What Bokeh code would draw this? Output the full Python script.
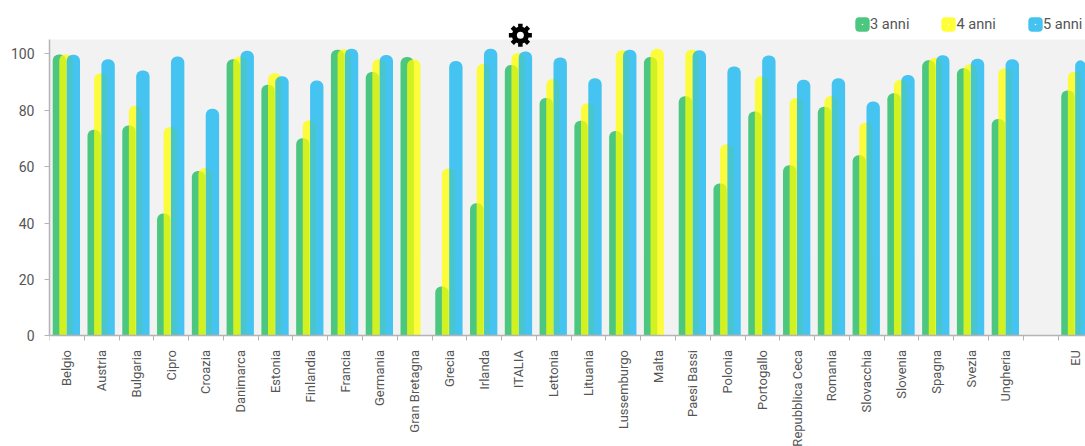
import numpy as np
from bokeh.embed import file_html
from bokeh.models import (BoxAnnotation, ColumnDataSource, FixedTicker, Legend,
                          LegendItem, Range1d)
from bokeh.plotting import figure
from bokeh.resources import INLINE

# Countries in axis order; the empty entry separates the member states from EU.
categories = ["Belgio", "Austria", "Bulgaria", "Cipro", "Croazia", "Danimarca", "Estonia",
              "Finlandia", "Francia", "Germania", "Gran Bretagna", "Grecia", "Irlanda",
              "ITALIA", "Lettonia", "Lituania", "Lussemburgo", "Malta", "Paesi Bassi",
              "Polonia", "Portogallo", "Repubblica Ceca", "Romania", "Slovacchia",
              "Slovenia", "Spagna", "Svezia", "Ungheria", "", "EU"]

anni_3 = [99.7, 73.0, 74.5, 43.4, 58.4, 98.0, 89.0, 70.0, 101.4, 93.5, 98.8, 17.5, 47.0, 96.0,
          84.3, 76.2, 72.6, 98.8, 84.9, 54.0, 79.5, 60.5, 81.2, 64.0, 86.0, 97.6, 94.8, 76.8,
          np.nan, 86.9]
anni_4 = [99.7, 93.0, 81.5, 74.0, 59.5, 99.0, 93.0, 76.4, 101.5, 98.0, 97.9, 59.3, 96.3, 100.2,
          91.0, 82.4, 101.2, 101.7, 101.4, 67.9, 92.0, 84.3, 85.0, 75.5, 90.7, 98.5, 96.2, 94.8,
          np.nan, 93.6]
anni_5 = [99.6, 98.0, 94.0, 99.0, 80.5, 101.0, 92.0, 90.5, 101.7, 99.5, np.nan, 97.4, 101.7, 100.7,
          98.6, 91.3, 101.4, np.nan, 101.2, 95.4, 99.3, 90.7, 91.3, 83.0, 92.4, 99.4, 98.2, 98.0,
          np.nan, 97.6]

y_ticks = [0, 20, 40, 60, 80, 100]
series_names = ["3 anni", "4 anni", "5 anni"]
series_colors = ["#2ec06b", "#ffff00", "#1ab8f0"]
series_alpha = [0.85, 0.75, 0.8]
swatch_colors = ["#4bc77f", "#ffff38", "#45c3f0"]
series_shift = [-0.215, -0.025, 0.185]

FONT = "Roboto"
TEXT = "#555555"

n = len(categories)
centers = list(range(n))
boundaries = [i - 0.5 for i in range(n + 1)]

# The frame fills the page height: the range below zero holds the rotated names.
p = figure(width=1085, height=446, output_backend="svg", toolbar_location=None,
           x_range=Range1d(-0.5, 29.29), y_range=Range1d(-39.13, 118.8),
           min_border_left=49, min_border_right=0, min_border_top=0, min_border_bottom=0,
           outline_line_color=None)

# Grey plotting band; the area above it stays white for the legend and the marker.
p.add_layout(BoxAnnotation(bottom=0, top=105, fill_color="#f2f2f2", fill_alpha=1,
                           line_color=None, level="underlay"))

p.xgrid.visible = False
p.ygrid.ticker = FixedTicker(ticks=y_ticks[1:])
p.ygrid.grid_line_color = "#979797"
p.ygrid.grid_line_width = 1

yaxis = p.yaxis[0]
yaxis.ticker = FixedTicker(ticks=y_ticks)
yaxis.bounds = (0, 105)
yaxis.axis_line_color = "#b4b4b4"
yaxis.axis_line_width = 1.5
yaxis.major_tick_line_color = "#b4b4b4"
yaxis.major_tick_in = 0
yaxis.major_tick_out = 5
yaxis.minor_tick_line_color = None
yaxis.major_label_text_font = FONT
yaxis.major_label_text_font_size = "14px"
yaxis.major_label_text_color = TEXT
yaxis.major_label_standoff = 10

# Names sit on the category centres, tick marks on the boundaries between them.
xaxis = p.xaxis[0]
xaxis.fixed_location = 0
xaxis.ticker = FixedTicker(ticks=centers, minor_ticks=boundaries)
xaxis.major_label_overrides = {i: c for i, c in enumerate(categories)}
xaxis.major_label_orientation = np.pi / 2
xaxis.major_label_text_font = FONT
xaxis.major_label_text_font_size = "13px"
xaxis.major_label_text_color = TEXT
xaxis.major_label_standoff = 8
xaxis.major_tick_line_color = None
xaxis.axis_line_color = "#b4b4b4"
xaxis.axis_line_width = 1.5
xaxis.minor_tick_line_color = "#b4b4b4"
xaxis.minor_tick_in = 0
xaxis.minor_tick_out = 5

source = ColumnDataSource(dict(x=centers, a3=anni_3, a4=anni_4, a5=anni_5))
for column, color, alpha, shift in zip(["a3", "a4", "a5"], series_colors, series_alpha, series_shift):
    xs = [c + shift for c in centers]
    p.vbar(x=xs, top=source.data[column], width=0.385, bottom=0, fill_color=color,
           fill_alpha=alpha, line_color=None, border_radius=(6, 6, 0, 0))

# Gear highlighting Italy: spokes, a solid hub and a white hole.
gear_x = categories.index("ITALIA") + 0.04
gear_y = 106.5
p.scatter(x=[gear_x], y=[gear_y], marker="cross", size=23, line_color="#000000", line_width=4.5)
p.scatter(x=[gear_x], y=[gear_y], marker="x", size=23, line_color="#000000", line_width=4.5)
p.scatter(x=[gear_x], y=[gear_y], marker="circle", size=17, fill_color="#000000", line_color=None)
p.scatter(x=[gear_x], y=[gear_y], marker="circle", size=7, fill_color="#ffffff", line_color=None)

# Legend swatches: a rounded square with a small white dot.
items = []
for name, color in zip(series_names, swatch_colors):
    swatch = p.scatter(x=[-9], y=[50], marker="square", size=8, fill_color=color,
                       line_color=color, line_width=8, line_join="round")
    dot = p.scatter(x=[-9], y=[50], marker="dot", size=8, line_color="#ffffff")
    items.append(LegendItem(label=name, renderers=[swatch, dot]))

legend = Legend(items=items, orientation="horizontal", location=(805, 413), padding=0, margin=0,
                spacing=31, glyph_width=16, glyph_height=16, label_standoff=0,
                label_text_font=FONT, label_text_font_size="14.6px", label_text_color=TEXT,
                background_fill_alpha=0, border_line_color=None)
p.add_layout(legend)

open("out.html", "w").write(file_html(p, INLINE))
